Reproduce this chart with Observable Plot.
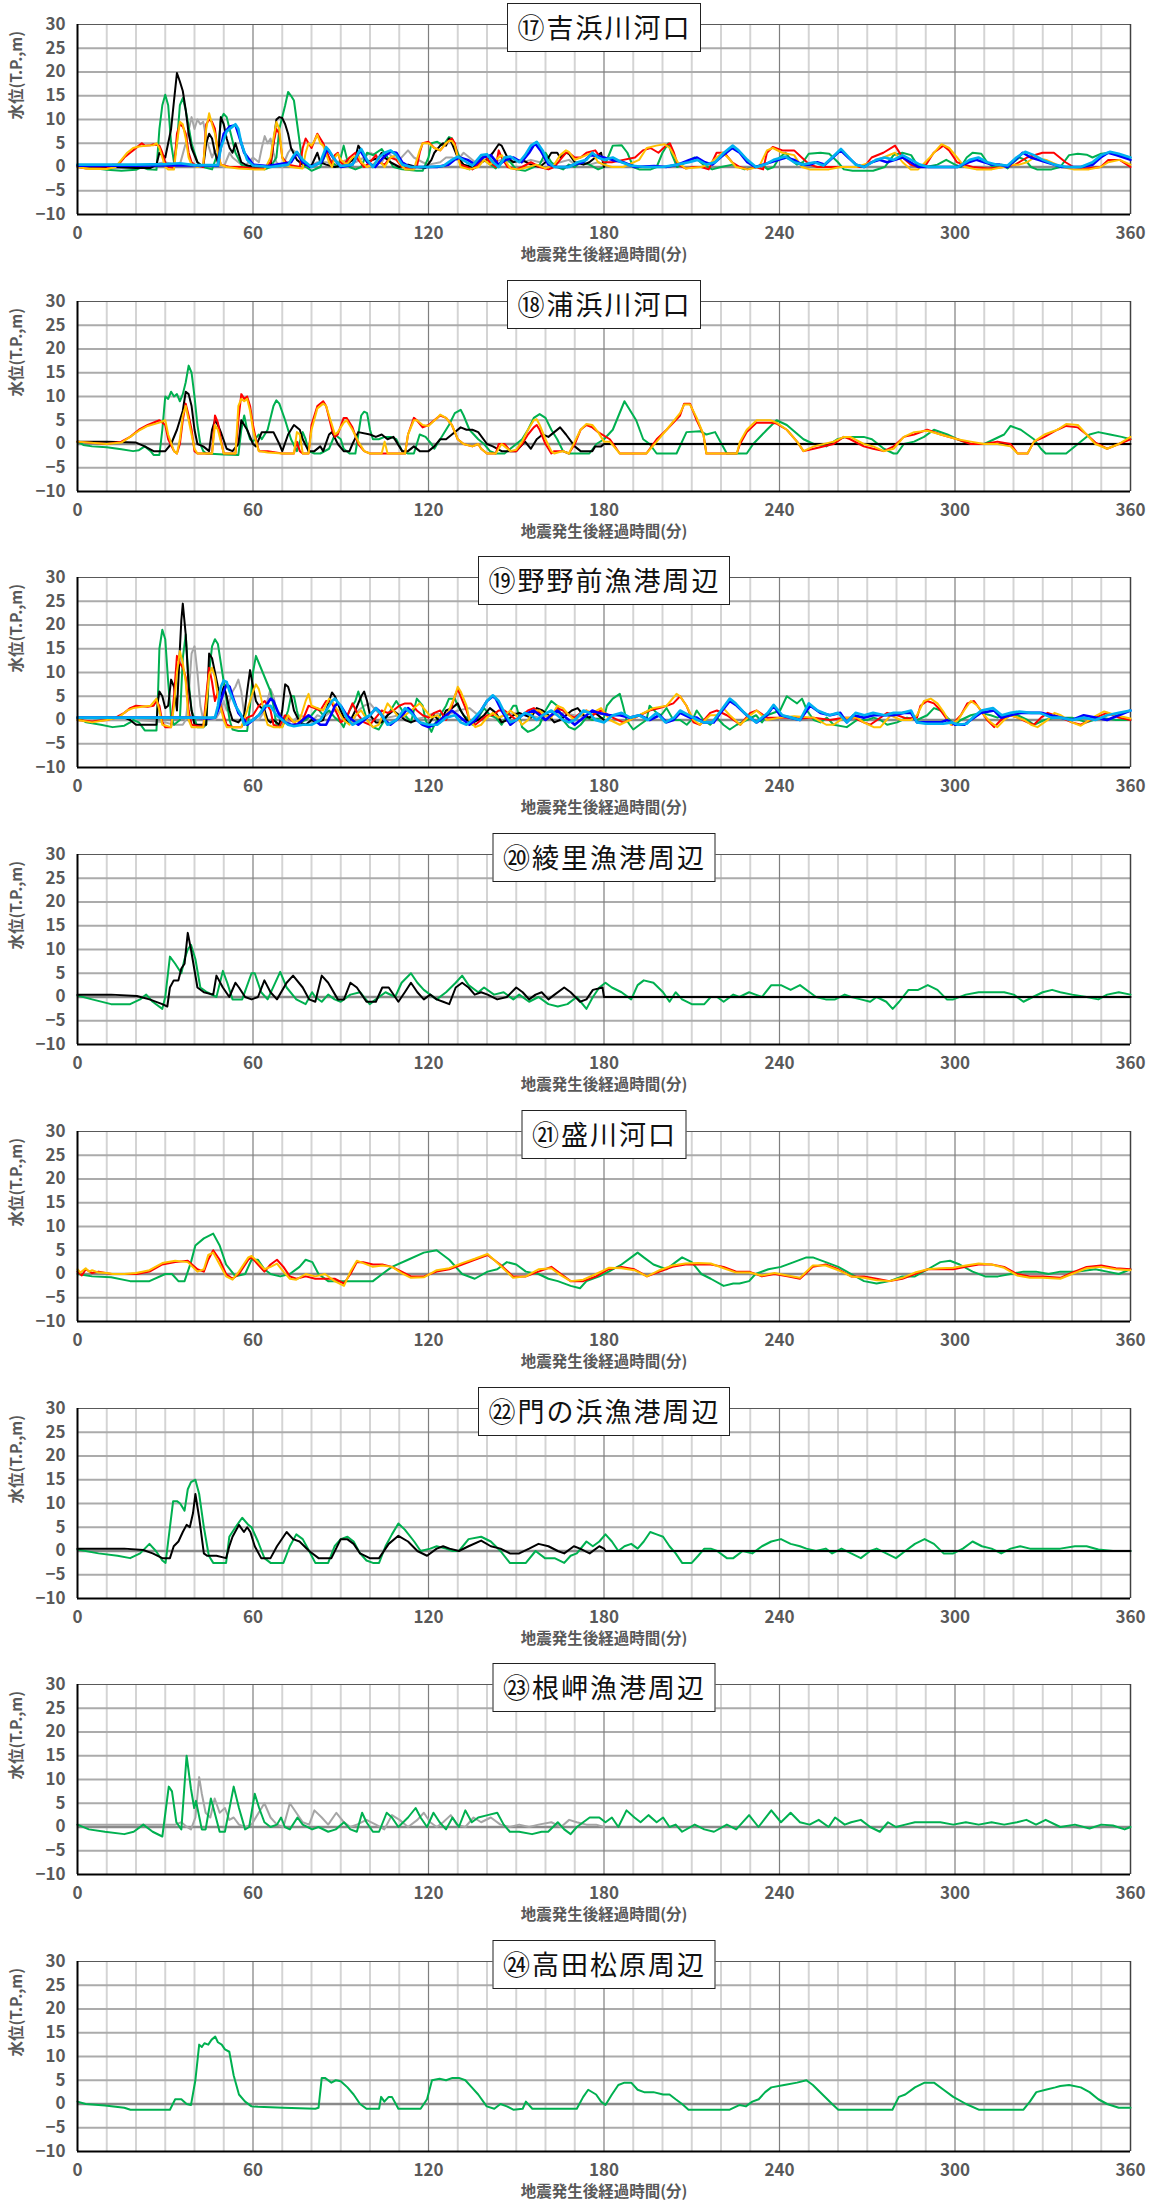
<!DOCTYPE html>
<html><head><meta charset="utf-8">
<script src="https://cdn.jsdelivr.net/npm/d3@7"></script>
<script src="https://cdn.jsdelivr.net/npm/@observablehq/plot@0.6"></script>
<style>
body{margin:0;background:#fff;}
#wrap{position:relative;width:1167px;height:2208px;overflow:hidden;}
.panel{position:absolute;left:0;width:1167px;}
.tbox{position:absolute;transform:translateX(-50%);box-sizing:border-box;height:49px;border:1.5px solid #222;background:#fff;
font-family:"Noto Sans CJK JP",sans-serif;font-size:27px;line-height:45px;letter-spacing:2px;padding:0 8px 0 10px;color:#111;white-space:nowrap;z-index:2;}
</style></head>
<body><div id="wrap"></div>
<script>
// ---- axis / tick data ----
const yTicks = [-10,-5,0,5,10,15,20,25,30];
const xTicks = [0,60,120,180,240,300,360];
const xMinor = [10,20,30,40,50,70,80,90,100,110,130,140,150,160,170,190,200,210,220,230,250,260,270,280,290,310,320,330,340,350];
const yGrid = [-5,5,10,15,20,25];
const xTitle = "地震発生後経過時間(分)";
const yTitle = "水位(T.P.,m)";
const titles = ["⑰吉浜川河口","⑱浦浜川河口","⑲野野前漁港周辺","⑳綾里漁港周辺","㉑盛川河口","㉒門の浜漁港周辺","㉓根岬漁港周辺","㉔高田松原周辺"];

// ---- series: flat [time(min), level(m), ...] ----
const p17_green = [0,0.5,5,-0.2,10,-0.6,15,-0.8,20,-0.6,22,0,24,-0.5,27,-0.6,28,8,29,13,30,15.2,31,13,32,5,33,1,34,5,35,13,36,14.5,37,12,39,5,41,1,43,0,46,-0.5,48,3,49,10,50,11.2,51,10.5,52,8,54,3,56,0.5,58,0,60,0,64,-0.5,66,0,68,2,69,8,71,13,72,15.8,73,15,74,14,76,5,77,0.5,80,-0.8,83,0,85,3,87,1,89,0,90,2,91,4.5,92,2,93,0,95,-0.5,97,0,99,3,101,2.5,104,3.8,106,2,108,0,111,-0.5,116,-0.8,118,-0.8,120,2,121,5,123,5.3,125,4.5,127,6.3,128,6,130,3,132,0,134,-0.5,136,-0.2,138,2,140,1,143,-0.3,146,2,148,1,150,-0.5,153,-0.8,156,0,158,0.5,160,3,162,1,164,0,166,-0.5,168,0.5,170,0,172,1,175,0.5,178,-0.5,180,0,182,3,183,4.5,186,4.6,188,3,190,0,192,-0.5,196,-0.5,198,0,200,3,202,5,203,3,205,0,208,1,211,2,214,0.5,217,-0.5,220,0,224,0.5,228,-0.5,232,0,234,0.5,236,-0.5,238,0,240,2,242,3,244,1.5,246,0.5,248,1,250,2.8,254,3,257,2.8,260,1,262,-0.5,265,-0.8,272,-0.8,276,0,279,2.5,282,3,285,2.5,287,0.5,290,0,294,0.5,297,1.5,300,0.5,302,0,304,2,306,3,309,2.8,311,1,313,0,316,0.5,318,-0.3,320,1,322,2,324,1.5,326,0,328,-0.5,333,-0.5,336,0,339,2.5,342,2.8,345,2.6,347,2,350,2.8,353,3,356,2.5,360,2];
const p17_black = [0,0.3,10,0,20,-0.2,25,-0.2,27,0.5,28,3,29,2.5,30,2,31,5,32,8,33,14,34,19.8,35,18,36,16,37,12,38,7,39,4,41,1,43,0,44,5,45,7,46,6,47,3,48,1,49,10.5,50,9,51,6,52,4,53,3,54,5,55,3,56,1,58,0.3,62,0,66,0,67,5,68,10,69,10.5,70,10.3,71,9,72,7,73,4,75,1.5,77,0.5,80,0.3,82,3,83,1,85,0.5,88,0,92,0.5,95,2,96,4.5,97,3.5,99,1,101,1.5,103,2,104,3,105,2,107,1,110,0,113,0.5,116,0,119,-0.2,121,1.5,122,3,124,4.5,125,5,126,4.5,127,6,128,5,130,2,132,0.5,135,0,138,1,140,1.5,142,3,144,4.8,145,4.5,147,2,149,1,152,1.5,155,0.5,158,0,160,1,162,3,164,3,165,2,167,3,168,2.8,170,1,173,0.5,175,1,177,2,179,3,180,0];
const p17_red = [0,0,3,-0.3,10,-0.3,12,0.5,14,0.5,16,2,18,3,19,3.5,21,4.5,22,5,23,4.5,25,4.6,26,4.8,28,4.5,29,3,30,1,31,0,33,-0.2,34,7,35,9,36,8.5,37,7,38,3,39,1,40,0.5,43,0,44,9,45,10,46,9.5,47,8,48,3,49,0.5,52,0,56,0,60,-0.3,64,-0.3,66,1,67,5,68,8,69,7,70,2,72,0.5,76,0,77,4,78,6,79,5,80,4,81,5.5,82,7,83,6,84,5,86,2,87,0.5,88,2.5,89,3,90,1,91,0.5,93,2,95,3,96,1.5,98,0,100,1,102,2.5,103,1,105,0.5,107,2,109,1.5,111,0,114,-0.3,116,0,117,3,118,5,120,5.3,122,4,124,3.5,126,5,127,5.5,128,6,129,5,130,2,131,0.5,133,0,135,-0.5,137,0.5,139,2.5,141,1,143,0,144,3.5,145,2,147,0,150,-0.5,152,0,155,1,158,0,161,-0.5,163,0,165,1.5,167,3,168,3,170,2,172,2,174,3,177,3.5,180,1,182.7,1,186.6,1.5,190.6,2,193.3,3.5,195.9,4,198.6,3,201.2,4.5,202.5,5,203.9,3,205.2,0.5,207.9,-0.3,210.5,0,213.2,0,215.8,-0.5,218.5,3,221.1,3,223.8,1,226.4,0,229.1,-0.5,231.7,0,234.4,-0.5,235.7,3,237.7,4.2,241,3.5,245,3.5,247.6,2,250.3,0.5,252.9,0,258.2,0,263.5,0,268.9,0,271.5,2,275.5,3,279.5,4.5,282.1,2,284.8,0.5,287.4,0,290.1,0.5,292.7,3,296,4.5,298,3.5,300.7,1,303.3,0.5,306,0,311.3,-0.3,316.6,0,320.6,0.5,324.6,2,329.9,3,333.8,3,337.8,1,340.5,0,344.5,-0.3,349.8,0,352.4,1.5,356.3,1.5,360,0];
const p17_orange = [0,0,4,-0.4,10,-0.4,13,0,15,1.5,17,3,19,4,21,4.3,24,4.5,26,4.6,27,5,28,4,29,2,30,0,31,-0.5,33,-0.5,34,5,35,9.5,36,9,37,6,38,2,39,0.5,41,0,43,0.5,44,8,45,11.3,46,9,47,7,48,3,49,0.5,51,0,55,-0.3,60,-0.5,64,-0.5,66,2,67,6,68,9.5,69,8,70,2,71,0.5,73,0,77,-0.3,78,3,79,5,80,4.5,81,5.5,82,6.8,83,5,84,4.5,86,1,87,0,88,2,89,2.8,90,1.5,92,0.5,94,2,96,2.5,97,1,99,0,101,0.5,103,1.5,105,0,107,2,109,2.5,110,1,112,-0.5,115,-0.5,117,3.5,118,5,120,5,122,4,124,3.5,126,5,127,5.5,128,5.5,129,4.5,130,2,131,0,134,-0.5,137,0,139,1.5,141,0.5,143,1.5,145,2.5,146,1.5,148,-0.3,151,-0.5,154,0,157,0.5,160,-0.3,163,0.5,165,2.5,167,3.5,168,3.2,170,1.5,172,2,174,2.5,176,3,178,1,180,0.5,182.7,0,186.6,0,192,1.5,194.6,4,197.9,4.5,200.6,4.8,202.5,4,205.2,1,207.9,-0.3,213.2,0,215.8,0.5,218.5,2,220.5,3,222.4,2,225.1,0,229,-0.5,233,0,235.7,3.5,237.7,4,241,3,245,2.5,247.6,0,250.3,-0.5,256.9,-0.5,260.9,0,266.2,0,271.5,1,275.5,2,279.5,3,282.1,1,284.8,-0.5,287.4,-0.5,291.4,2,295.4,4.8,298,4,300.7,2,303.3,0,307.3,-0.5,312.6,-0.5,316.6,0,319.3,0.5,321.9,0.5,324.6,1,327.2,2,331.2,1.5,336.5,0,340.5,-0.5,345.8,-0.5,349.8,0,352.4,1,356.3,1.5,360,0.5];
const p17_gray = [0,0,20,0,25,0.5,30,1,33,0.5,35,0.5,37,5,39,10.5,40,8,41,10,42,9,43,9.5,44,6,45,4,46,2,47,3.5,48,0.5,50,0,52,3,53,2,55,1,57,0,60,2,62,1,63,4,64,6.5,65,5,66,6,67,3,68,1,70,0,72,3,73,3.8,75,3,77,1.5,79,0,82,1,85,1,88,0.5,92,1.5,95,1,98,2,100,3,102,2.5,104,1,106,3,108,2,110,1.5,113,3.5,115,2,118,1,120,0.5,124,1,126,2,128,2,130,1.5,132,3,134,2,136,1,138,1.5,140,1.5,142,1,145,1.5,148,1,150,1.5,152,1,155,1.5,158,1,160,1.5,162,0.5,165,1,168,1.5,170,0.5,172,1,175,0.5,178,1,180,0.5];
const p17_blue = [0,0.3,20,0.3,30,0.4,40,0.3,48,0.3,48.6,3,50,7,52,8.5,54,8.8,55,7,57,3,60,0.5,65,0.2,73,1,75,3,77,1,79.5,0,83.4,1,85.4,3.8,87.4,2,90,0,94,0.5,96.6,3.5,99.2,1,101.8,0,104.5,2,107,3.2,109,3,111,1,113.7,0,117.6,0,122.9,0,126.8,0.5,128.8,1.5,130.7,2,133.4,1.5,136,0.5,138.6,2,141.3,2.5,143.9,0.5,146.5,1.5,149.1,2,151.8,1,154.4,3,156.4,5,158.3,3.5,161,0.5,163.6,0,167.5,0,170,0.5,172.8,1,175.4,2.5,178,2.3,180,2,182.7,1.5,186.6,1,190.6,0,197.2,0.2,201.2,0,205.2,0.5,209.2,1.5,211.8,2,214.5,1,217.1,0.5,219.8,2,223.8,4,226.4,3,229,1,231.7,0,234.4,0.5,237,1,239.7,1.5,242.3,2,245,1.5,247.6,0.5,250.3,0.5,252.9,1,255.6,0.5,258.2,2,260.9,3.5,263.5,2,266.2,0.5,268.9,0,271.5,1,274.2,1.5,276.8,1,279.5,1.5,282.1,2,284.8,1,287.4,0,290.1,0,295.4,0,300.7,0,304.7,1,307.3,1.5,310,1,312.6,0.5,315.3,0.5,317.9,0,320.6,1.5,323.2,3,325.9,2,328.5,1.5,331.2,1,333.8,0.5,336.5,0,339.2,0,343.1,0,347.1,0.5,349.8,2,352.4,3,355.1,2.5,357.7,2,360,1.5];
const p17_lightblue = [0,0.5,20,0.5,30,0.6,35,0.8,40,0.4,48,0.4,49,4,51,7.5,53,8.5,54,9,55,8,56,5,58,1.5,60,0.3,66,0,72,0.5,74,2.5,75,3.2,77,1.5,80,0,83,1,85,4.2,86,3.5,88,1.5,90,0.2,94,0.5,96,3,97,3.8,99,1.5,101,0,103,2,105,3,107,3.5,109,2.5,111,0.5,114,0,120,0,125,0.2,128,1.5,130,2.2,133,1,135,0.3,138,2.5,140,2.7,142,1,144,0,146,2,148,2.2,151,1,153,2.5,155,4.5,157,5.3,159,3.5,161,1,163,0,168,0,171,1,174,1.5,176,3,178,2,180,1.5,183,2,186,1,189,0.3,194,0,200,0,205,0.5,209,1,212,1.5,215,0.5,218,1,221,3,224,4.5,226,3.5,229,1.5,232,0,235,0.5,238,1.5,242,2.2,245,1,248,0.5,252,1,255,0.3,258,2,261,3.8,263,2.5,266,0.5,269,0,273,1.5,276,2,279,1.5,282,2.5,285,1.5,288,0.5,291,0,296,0,301,0,305,1.5,308,2,311,1,314,0.5,318,0.3,321,2,324,3.2,327,2.5,330,1.5,334,0.5,338,0,343,0,347,1,350,2.5,353,3.2,356,2.8,360,2];

const p18_green = [0,0.5,2,-0.2,5,-0.5,10,-0.7,15,-1.1,19,-1.5,21,-1.3,23,-0.5,25,-1.5,26,-2.3,28,-2.3,29,3,30,10,31,9.5,32,11,33,10,34,10.5,35,9,36,10.5,37,13,38,16.5,39,15,40,10,41,4,42,0,43,-1.5,44,-2,50,-2.2,55,-2.3,56,3,57,6,58,3,59,1,60,0.5,62,2,63,1,65,3,67,8,68,9.2,69,8.5,71,5,73,1,75,-1.5,77,2.5,78,1,79,-1.5,81,-2,83,-2,86,-1,88,2,90,1,91,-1,93,-2,95,-2,96,2,97,6,98,6.8,99,6.5,100,3,101,1,103,1,105,1.5,107,1.5,109,1,111,-1.5,113,-2,115,-2,117,2,119,1.5,121,0,122,-1,123,0,125,2,127,4,129,6.5,131,7.2,132,6,134,3,137,1,139,0,141,-1.5,143,-2,146,-2,148,-1,150,0,152,1,154,3,156,5.5,158,6.3,160,5.5,162,3,164,1,166,-1.5,168,-2,172,-2,175,-2,177.4,0,180,1,183,3,187,9,191,5,193.4,1,195.6,0,198,-2,204.8,-2,208.2,2.5,212.8,2.7,215,2,218,2.5,220.2,0,222,-2,228.8,-2,231,0,235.7,3,239,5,242.5,4,248.2,1,251.7,0,256,-0.5,259.7,1,263,1.5,268.8,1.5,271.6,1,275.7,-1,279,-2,280.2,-2,282.5,0,286,0.5,289.4,1.5,292.8,3,297.4,2,300.8,1,305.4,0,310,0,313.4,1,316.8,2,319,3.8,322.5,3,327,1,329.4,-1,331,-2,336.2,-2,338,-2,342,0,346,2,349,2.5,353,2,357,1.5,360,1];
const p18_black = [0,0.5,10,0.5,20,0.3,23,-0.5,26,-1.5,30,-1.5,32,0,34,3,36,7,37,11,38,10.5,39,8,40,3,41,0,43,-0.5,45,-1.5,46,3,47,5,48,4,49,2.5,51,-1,53,-1.5,55,0,56,5,57,4,58,3,60,0,61,-0.5,63,2.5,65,2.5,67,2.5,69,0,70,-1.5,72,2,74,4,76,3,77,1,79,-1.5,81,-1.5,83,-0.5,84,-1.5,86,2,87,2.5,89,0,91,-1.5,93,-1.5,94,0,96,2.5,100,2,102,1.5,104,2,106,1,108,1.5,109,0.5,111,-1.5,113,-1.5,115,-0.5,117,-1.5,120,-1.5,122,-0.5,124,1,126,1,128,2,131,3.5,133,3,135,3,137,2.5,140,0,142,-0.5,145,-1.5,150,-1.5,153,0.5,155,-1,157,1,159,2,161,1.5,163,2.5,165,3.5,167,2,170,-0.5,172,-1.5,176,-1.5,177,-0.5,179,-0.5,180,0,360,0];
const p18_red = [0,0.5,10,0,15,0.5,18,1.5,21,3,24,4,28,5,30,4,31,1,33,-1.5,34,-2,35,0,36,5,37,8.5,38,6,39,3,40,-1.5,41,-2,46,-2,47,6,48,4.5,49,1,50,-2,54,-2,55,5,56,10.5,57,9.5,58,10,59,8,60,4,61,1,62,-1.5,65,-1.5,70,-2,74,-2,75,0.5,76,-1.5,77,-2,79,-2,80,4,82,8,84,9,85,8,87,3,88,1.5,89,2,91,5.5,92,5.5,94,3.5,96,0,98,-1.5,100,-2,108,-2,112,-2,113,2,115,5.5,116,5,118,3.5,120,4,123,5.5,124,6,126,5.5,128,4,130,1,132,0,135,-0.5,137,0,138,-1,140,-2,143,-2,144,0,146,0,148,-1.5,150,-1.5,152,0,154,2,156,3.5,157,4,158,3,160,0,162,-2,163,-1.5,166,-1.5,168,-2,170,0,172,3,174,4,176,3.5,178,2.5,182,1,185.4,-2,194.5,-2,198,1,201.4,3,206,6,207.4,8.5,209.4,8.5,211.7,5,214,2,215,-2,225.4,-2,226.5,0,228.8,2.5,232.2,4.5,236.8,4.5,239,4.3,242.5,3,246,0.5,248.2,-1.5,251.7,-1,258.5,0,262,1.5,264.2,1,268.8,-0.5,272,-1,275.7,-1.5,279,-0.5,282.5,1.5,286,2,290.5,3,295.1,2,300.8,1,305.4,0,310,0,314.5,0.5,319,0,321.4,-2,324.8,-2,327,0.5,330.6,1.5,335,3,338,3.8,342,3.5,345,2,348,0.3,352,-1,356,0,360,1];
const p18_orange = [0,0.5,10,0,15,0.3,18,1.5,21,2.8,24,3.8,28,4.5,30,5,31,2,33,-1.5,34,-2,35,1,36,6,37,8,38,5,39,2,40,-1,41,-2,46,-2,47,4,48,3,49,0.5,50,-2,54,-2,55,8,56,9.5,57,9,58,9.5,59,7,60,3,61,0.5,62,-1.5,65,-1.8,70,-2,74,-2,75,2.5,76,2,77,-2,79,-2,80,3,82,7.5,84,8.5,85,8,87,4,88,2,89,2.5,91,4.5,92,5,94,3,96,0.5,98,-1.5,100,-2,104,-2,105,0.5,106,-2,112,-2,113,2,115,5,116,5,118,4,120,3.8,123,5.5,124,6.2,126,5.5,128,4,130,1,132,0,135,-0.5,137,0,138,-1,140,-2,143,-2,145,0,146,-0.5,148,-1.5,150,-1.2,152,0.5,154,3,156,5,157,5.2,158,4,160,1,162,-1.5,163,-2,166,-1.5,168,-2,170,0.5,172,3,174,4.2,176,4,178,2.5,180,0.5,182,0.5,185.4,-2,194.5,-2,198,0.5,201.4,3,206,6.5,207.4,8.3,209.4,8.3,211.7,5.5,214,2,215,-2,225.4,-2,226.5,0.5,228.8,3,232.2,5,236.8,5,239,4.5,242.5,3,246,0.5,248.2,-1.5,251.7,-0.5,258.5,0.5,262,1.5,264.2,1.5,268.8,0,272,-0.5,275.7,-1.5,279,-1,282.5,1.5,286,2.5,290.5,2.8,295.1,2,300.8,1,305.4,0.5,310,0,314.5,0,319,-0.5,321.4,-2,324.8,-2,327,0.5,330.6,2,335,3,338,4.2,342,4,345,2,348,0,352,-1,356,0,360,1.5];

const p19_green = [0,0.5,3,-0.5,8,-1,12,-1.5,16,-1.2,18,-0.5,19,0,21,-0.5,23,-2.2,27,-2.2,27.5,5,28,15,29,19,30,17,31,8,32,0.5,33,-1,35,0,36,13,37,18,38,8,39,2,41,-1.5,43,-1.5,44,-1,45,10,46,15.5,47,17,48,16,49,12,50,8,51,4,52,0,53,-2,55,-2.3,58,-2.3,59,3,60,10,61,13.5,62,12,64,9,66,6,67,3,68,-1,70,-1.5,72,2,73,5,74,5,75,2,76,-0.5,78,0,80,1,82,2.5,84,1,86,2,88,0.5,90,-0.5,91,-1.5,93,2,95,4,96,6,97,4,99,0,101,-1.5,103,-2,105,0,107,2,109,4,110,3,112,1,114,-0.5,116,4.5,118,3,119,0,121,-2.5,122,-1,124,1,126,3,127,4.5,129,4.5,130,3,132,1,134,0,135,-1,137,0.5,139,2.5,141,1,143,0.5,145,-1,147,1,149,3,150,3,152,-1.5,154,-2.5,156,-2,158,-1,160,2,162,4,164,3,166,0,168,-1.5,170,-2,172,-1,174,0.5,176,0,180,0.5,181,3,183,4.5,185.4,5.5,186.5,3,187.7,0,188.8,-1,190,-2,192.2,-1,194.5,0,195.6,3,198,1.5,199.5,1,201.4,2.5,203.7,0,206,0,208.3,-1,210.6,0.5,211.7,2,214,0,216.3,-1,218.6,0.5,220.8,-1,223,-2,225.4,-1,228.8,0,232,1,234,-0.5,235.7,1,240.2,2,242.5,5,244.8,4,246,3.5,247.7,4.5,249.4,2,251.7,0,254,-0.5,256.2,0.5,258.5,-1,263,-1.5,266.5,0,270,0,272.2,0.5,274.5,0,276.8,-1,280.2,-0.5,283.6,0.5,287,0,290.5,1,292.8,2.5,295.1,2,297.4,0.5,300,-1,302,0,305.4,1,308.8,1.5,312.2,1,314.5,0.5,316.8,1,319,1,321.4,1,324.8,0,327,-1,330.6,0,334,0.5,336.2,0.5,340,0.5,345,-0.5,350,0.5,355,0,360,0];
const p19_black = [0,0.5,10,0.3,16,0.5,18,0,20,-1,25,-1,27,-1,27.5,4,28,6,29,5,30,2.5,31,3,32,8.5,33,7,34,2,35,15,35.5,21,36,24.5,37,18,38,7,39,2,40,-1,42,-1,44,-1,45,14,46,13,47,10,48,7,49,5,50,7,51,5,52,2,53,0,55,-0.5,57,1,58,6,59,10.5,60,7,61,4,62,3,64,2,65,0,66,-0.5,67,0,69,-1,70,2,71,7.5,72,7,73,5,74,2,76,-0.5,78,-1,80,0,82,-0.5,84,0,86,4,87,5.8,88,5,90,2,91,0.5,93,-0.5,95,2,97,5,98,6,99,4,100,1,102,-0.5,104,-0.5,106,1,108,2,110,1,112,0,114,-0.5,116,0,118,-1,120,-1,122,1,124,-0.5,126,2,128,2.5,130,3.5,131,2,133,0,135,-0.5,137,0,139,1,141,2.5,143,1.5,145,-0.5,147,0,149,1,151,1.5,153,1,155,0.5,157,2.5,159,2,161,1,163,-0.5,165,0,167,1,169,2,171,2.5,173,1,175,0.5,177,1.5,179,0.5,180,0];
const p19_red = [0,0,5,-0.3,10,0,13,0.5,16,1.5,18,2.5,20,3,24,2.8,26,3,27,4,28,3,29,-0.5,30,-1.5,32,-1.5,33,5,34,13.5,35,12,36,11,37,9,38,2,39,-1,43,-1.5,44,5,45,11,46,8,47,4,48,6,49,3,50,1,51,-1,53,-1.5,56,-1.5,58,0.5,60,1,62,3,64,4,66,2,67,-1,69,-1.5,71,1,73,0,75,-1,77,0,79,3,81,2.5,83,2,85,4,87,3.5,89,1,90,-0.5,92,0.5,94,3.5,96,1,98,-0.5,100,-1,102,0.5,104,2,106,1.5,108,2,110,3,112,3.5,114,3.5,116,2,118,1,120,0.5,122,1.5,124,2,126,0,128,3,129,5,130,6.5,131,5,133,2,134,0,136,-1,138,0,140,1,142,1,144,2,146,2,148,1,150,0,152,1,154,2,156,2.5,158,1.5,160,0,162,1,164,2.5,166,2,168,1,170,0.5,172,1.5,174,2,176,1,179,2,183,0.5,186.5,-0.5,188.8,0,192.2,1,195.6,2,199,2.5,201.4,3,203.7,3.5,206,5,208.2,3,210.6,-0.5,212.8,-1,216.3,1.5,218.6,2,222,1,224.3,0,226.6,-1,230,1.5,232.2,2,235.7,0.5,240.2,0.5,244.8,0.5,247,0.3,251.7,0.5,257.3,0,262,0.5,265.3,0.5,268.8,-0.5,271,-1,273.4,0,276.8,1.5,280.2,1,283.6,0.3,287,0.5,288.2,3,290.5,4,292.8,3.5,295.1,2,297.4,0,299,-1,302,1,304.2,3.5,306.5,4,308.8,2,311,0,313.4,-1.5,315.7,0,319,1,321.4,0.5,324.8,-0.5,327,-1,329.4,0.5,331.7,1.5,334,1,336.2,0.5,340,-0.5,343,-1,348,0.5,352,1.5,356,0.5,360,0];
const p19_orange = [0,0,5,-0.5,10,0,14,0.5,17,2,19,2.5,22,2.8,25,3,27,4.5,28,2,29,-1,32,-1.5,33,3,34,10,35,14.5,36,12,37,8,38,0,39,-1.5,43,-1.5,44,3,45,9.5,46,11,47,9,48,5,50,0,51,-1.5,56,-1.5,58,2,60,6,61,7.5,62,6.5,63,4,64,1,65,-1,67,-1.5,70,-1.5,72,1,74,-0.5,76,0,78,4,79,5.5,80,3,82,2.5,84,2,86,4.5,87,4,89,2,91,0,93,-1,95,1,97,2,99,0,101,-1.5,103,-1,105,2,106,3.5,108,2,110,0.5,112,1,114,2,116,3,117,3.5,119,2,121,0.5,123,1,125,0,127,2,129,5,130,7,131,6,133,3,134,0,136,-1.5,138,-1,140,0.5,142,1.5,144,0.5,146,1,148,2,150,1,152,-1,154,0,156,2,158,2,160,1,162,0.5,164,3,166,2.5,168,1,170,0,172,1,174,2,176,1.5,179,2.5,182,0,185.4,-1,188.8,0,192,1,196.8,2.5,201.4,3,204.8,5.5,206,5,208.2,3,210.6,0,212.8,-1,216.3,1,218.6,1,220.8,2.5,223,1,226.6,-1,230,1,232.2,2,235.7,0,240,0.5,245,0.8,251.7,0.5,256,-1,258.5,-1,262,0.5,266.5,0.5,268.8,-0.5,272.2,-1.5,274.5,-1.5,278,1,281.4,0,285,0,287,1,289.4,4,291.7,4.5,294,3.5,296.3,1.5,298.6,-1,301,0,303.1,2,305.4,4,307.7,3,310,1,312.2,-0.5,314.5,-1.5,316.8,0,319,1,323.7,0,326,-1,328.2,-1.5,331.7,0,334,1.5,336.2,1,340,-0.5,343,-1.2,347,0.5,351,1.8,355,1,360,0.3];
const p19_gray = [0,0,20,0,25,-0.2,30,-0.5,33,-1,36,-1,37,0,38,5,39,14,40,15.5,41,10,42,3,43,0,47,0,49,2,50,4,51,2,53,6,54,7,55,8.5,56,6,57,1,58,0,62,0,64,2,66,6.5,67,5,68,2,70,1,72,-0.5,74,0,76,1,78,0.5,80,-0.5,82,1,84,0.5,86,1.5,88,2,90,2,92,0.5,94,-0.5,96,2,98,3,100,3.5,102,2,104,1,106,0.5,110,1,114,0,118,0.5,122,1.5,126,1,130,2,134,2.5,138,0.5,142,0,146,1,150,1.5,154,1,158,0.5,162,1,166,1.5,170,1,174,0.5,178,0.3,180,0];
const p19_blue = [0,0.5,20,0.5,30,0.5,40,0.5,45,0.3,47,0.5,48,2,50,6,51,7.5,52,7,53,5,55,1.5,57,0,58,-1,60,0,62,1,64,2.5,66,4.5,67,4,69,1,71,-0.5,73,-1,75,-1,77,0,79,1,81,0,83,-1,85,-1,87,1.5,88,3,89,3.5,90,3,92,1,94,0,96,-1,98,0,100,1,102,2.5,103,2,105,0,107,-1,109,0,111,1,113,2.5,114,2,116,0,118,-1,120,-1.5,122,-1,124,0,126,1,128,2,130,1,132,0,134,-1,136,0,138,2,140,4,142,5,143,4.5,145,2,147,0,148,-1,150,0,152,1,154,1.5,156,2,158,1,160,0,162,1,164,2,166,1,168,0,170,-1,172,0,174,1,176,2,178,1.5,182,1,185.4,1,188.8,0.5,192.2,1,195.6,0,199,1,201.4,-0.5,203.7,0,206,1.5,209.4,0.5,211.7,0.5,214,-0.5,217.5,-0.5,219.8,1.5,223,4,225.4,3,228.8,1,232.2,-0.5,235.7,1,238,3,240.2,1,243.7,0.5,247,0,250.5,3,254,1.5,257.3,1,260.8,1.5,263,-0.5,265.3,1,268.8,0.5,272.2,1,275.7,1,279,1,282.5,1.5,284.9,1.5,287,-0.5,290.5,-0.5,295.1,-0.5,297.4,0,300,-1,303.2,-1,305.4,0,308.8,1.5,313.4,2,315.7,0.5,319,1,322.5,1.5,326,1.5,329.4,1.5,332.8,1,336.2,0.5,340,0,344,1,348,0.5,352,0,356,1,360,2];
const p19_lightblue = [0,0.5,20,0.5,30,0.5,40,0.5,47,0.5,48,3,49,7,50,8.3,51,8,52,6,54,3,56,1,57,-1,60,0,62,1,64,3,66,3,68,1,70,0,72,-1,74,-1.3,77,-1,80,-1,83,0,85,2,87,4,88,4.5,90,3,92,0.5,94,-1,97,0,100,1,102,2.5,104,1,106,-1,109,0,112,2.5,114,1.5,117,-0.5,120,-1,123,-1,126,0.5,129,1,131,-0.5,133,-1,135,0,138,2,140,4,142,5.2,144,4,146,1.5,148,-0.5,150,0,153,1.5,155,1,157,0,159,1,162,2,164,1,166,0,168,-0.5,170,0,173,2,175,1.5,177,0,180,-0.5,183,1,186,1.5,189,0.5,192,1,195,0,198,1.5,201,-0.5,204,0.5,206,2,209,1,212,0,214,-0.5,217,-0.5,220,2,223,4.5,225,3.5,228,1.5,232,-0.5,236,1.5,238,3.2,241,1,244,0.5,247,0,250,3.5,253,2,257,1,260,1.5,263,-0.5,266,1.5,269,1,272,1.5,276,1,279,1.5,282,1.5,285,2,287,-0.5,290,-0.8,296,-0.8,299,-0.5,301,-1,304,-0.8,306,0.5,309,2,313,2.5,316,1,319,1.5,322,1.8,326,1.5,329,1.5,333,0.5,336,0.5,340,0,344,0.5,348,0,352,1,356,1.5,360,2];

const p20_green = [0,0.3,5,-0.5,11.5,-1.5,18,-1.5,21.4,-0.5,23.5,0.5,25.7,-1,29,-2.5,30,0,31.6,8.5,33.4,7,35.5,5,36.6,8,37.7,10,38.8,11,40.3,8,42,2,44.3,1,47.5,0,49.7,5.5,51.2,3,53,-0.5,56.3,-0.5,59.5,5,60.6,5,62.8,1,65,-0.5,69.3,5.3,71.5,2,74.8,-0.5,78,-1.5,80.2,1,81.3,0,83.5,-1,85.7,0.5,87.9,-0.5,90,-1,93.3,0.5,96.6,1,99.9,-1.5,102,-0.5,105.3,1,108.6,0,110.8,3,114,5,116.2,3,118.4,1.5,122.8,-0.5,126,1,129.3,3,131.5,4.5,133.7,2.5,137,1,139,2,142.4,0.5,145.7,1,149,-0.5,151,0.5,154.4,-1,157.6,0,161,-1.5,164.2,-2,167.5,-1.5,170.7,0,174,-2.5,176.2,0,178.4,2,180.5,3,182.7,2,186,1,189.3,-0.5,191.5,2.5,193.6,3.5,196.9,3,200.2,1,202.4,-1,204.5,1,206.7,-0.5,210,-1.5,212.2,-1.5,214.3,-1.5,216.5,0,218.7,0,220.9,-1,224.2,0.5,226.3,0,229.6,1,231.8,0.5,234,0,237.2,2.5,240.5,2.5,243.8,1.5,247,2.5,250.3,1,252.5,0,255.8,-0.5,259,-0.5,262.3,0.5,264.5,0,267.8,-0.5,271,-1,273.2,0,276.5,-1,278.7,-2.5,280.9,-1,284.1,1.5,287.4,1.5,290.7,2.5,294,1.5,297.2,-0.5,299.4,-0.5,303.7,0.5,308.1,1,312.5,1,316.8,1,320.1,0.5,323.4,-1,326.6,0,330,1,333.2,1.5,336,1,340,0.5,345,0,349,-0.5,352,0.5,356,1,360,0.5];
const p20_black = [0,0.5,11.5,0.5,20.3,0.2,24.6,-0.5,29,-1.5,30.7,-2,31.6,2,32.9,3.5,34.5,3.5,35.5,6,36.6,7,37.7,13.5,38.8,10,39.9,6,41,2,43.2,1,46.4,0.5,47.5,4.5,49.7,2,51.9,0,54,3,55.2,2,57.3,0,59.5,-0.5,61.7,0,63.9,3.5,66,1,68.2,-0.5,71.5,3,73.7,4.5,77,2,79.2,-0.5,81.3,-1,83.5,4.5,85.7,3,89,-0.5,91.1,-0.5,93.3,3,95.5,2,98.8,-1,102,-1,104.2,2,106.4,2,109.7,-1,111.9,1,114,3,116.2,1,118.4,-0.5,120.6,0.5,122.8,-0.5,125,-1,127.1,-1.5,129.3,2,131.5,3,133.7,2,135.8,0.5,138,1,140.2,0.5,143.5,-0.5,146.8,0,150,2,152.2,1,154.4,-0.5,156.6,0.5,158.7,1,161,-0.5,163.1,0.5,166.4,2,168.6,1,171.8,-1,174,-0.5,176.2,1.5,179.5,2,180,0,360,0];

const p21_green = [0,0,5,-0.5,11.5,-0.7,18,-1.5,24.6,-1.5,30,0,32.3,0,34.5,-1.5,36.6,-1.5,38.8,2.5,40.3,6,43.2,7.5,46.4,8.5,48.6,6,50.8,2,54,-0.5,57.3,0,59.5,3,61.7,3,63.9,1,66,0,69.3,-0.5,72.6,0,75.9,1.5,78,3,80.3,2.5,82.4,0,85.7,-1.5,91.1,-1.5,94.4,-1.5,97.7,-1.5,101,-1.5,104.2,0,107.5,1.5,113,3,118.4,4.5,122.8,5,127.1,3,131.5,0,135.8,-1,140.2,0.5,143.5,1,146.8,2.5,150,2,153.3,0.5,157.6,0,161,-1,164.2,-1.5,168.6,-2.5,171.8,-3,174,-1.5,178.4,-0.5,181.6,0.5,186,2,189.3,3.5,191.5,4.5,193.6,3.5,196.9,2,201.3,1,204.5,2.5,206.7,3.5,210,2.5,213.3,0,216.5,-1,220.9,-2.5,224.2,-2,226.3,-2,229.6,-1.5,231.8,0,236.2,1,240.5,1.5,244.9,2.5,249.2,3.5,251.4,3.5,255.8,2.5,260.1,1.5,264.5,0,268.9,-1.5,273.2,-2,277.6,-1.5,282,-0.5,286.3,-0.5,290.7,1,295,2.5,298.3,2.8,301.6,2,306,0.5,310.3,-0.5,314.7,-0.5,319,0,323.4,0.5,327.7,0.5,332,0,336,0.5,342,0.5,348,1,352,0.5,356,0,360,1];
const p21_red = [0,0.5,1.5,-0.3,2.8,1,5,0.2,7.2,0.5,11.5,0,16,0,20.3,0,24.6,0.5,29,2,33.4,2.5,37.7,2.8,41,1,43.2,0.5,44.7,3,46.4,5,48.6,3,50.8,0,53,-1,55.2,0,58.4,3,59.5,3.5,61.7,2,63.9,0.5,66,2,68.2,3,70.4,1.5,72.6,-0.5,74.8,-1,78,-0.5,81.3,-1,84.6,-1,87.9,-1,91.1,-2,93.3,0,95.5,2.5,97.7,2.5,101,2,104.2,2,107.5,1.5,110.8,0.5,114,-0.5,118.4,-0.5,122.8,0.5,127.1,1,131.5,2,135.8,3,140.2,4,144.5,2,148.9,-0.5,153.3,-0.5,157.6,0.5,162,1.5,165.3,0,168.6,-1.5,172.9,-1.5,177.3,-0.5,181.6,1,186,1.5,190.4,1,194.7,-0.5,199,0.5,203.4,1.5,207.8,2,212.2,2,216.5,2,220.9,1.5,225.2,0.5,229.6,0.5,234,-0.5,238.3,0,242.7,-0.5,247,-1,251.4,1.5,255.8,2,260.1,1,264.5,-0.5,268.9,-0.5,273.2,-1,277.6,-1.5,282,-1,286.3,0,290.7,1,295,1,299.4,1,303.7,1.5,308.1,2,312.5,2,316.8,1.5,321.2,0,325.6,-0.5,330,-0.5,336,-0.8,340,0.3,345,1.5,350,1.8,355,1.2,360,1];
const p21_orange = [0,1,1,0.3,2.8,1.2,4,0.5,5,0.8,7.2,0.3,10,0.2,12,0,16,0,20,0.2,24.6,0.8,29,2.3,33.4,2.8,37.7,2.5,41,0.5,43.2,1,44.7,4,46.4,4.5,48.6,2,50.8,-0.5,53,-1.2,55.2,0.5,58.4,3.5,59.5,3.8,61.7,2.5,63.9,1,66,1.5,68.2,2.2,70.4,0.5,72.6,-1,74.8,-1.2,78,0,81.3,-0.5,84.6,0,87.9,-1.5,91.1,-2.5,93.3,0.5,95.5,2.8,97.7,2.3,101,1.5,104.2,1.8,107.5,1.5,110.8,0.2,114,-0.8,118.4,-0.7,122.8,0.8,127.1,1.2,131.5,2.3,135.8,3.2,140.2,4.2,144.5,1.8,148.9,-0.8,153.3,-0.5,157.6,1,162,1.2,165.3,-0.3,168.6,-1.5,172.9,-1.2,177.3,0,181.6,1.3,186,1.2,190.4,0.8,194.7,-0.5,199,0.8,203.4,1.8,207.8,2.2,212.2,2.3,216.5,2.2,220.9,1.2,225.2,0.3,229.6,0.3,234,-0.3,238.3,0.2,242.7,-0.3,247,-0.8,251.4,1.8,255.8,1.8,260.1,0.8,264.5,-0.5,268.9,-0.8,273.2,-1.3,277.6,-1.5,282,-0.8,286.3,0.3,290.7,1,295,1.2,299.4,1.3,303.7,1.8,308.1,2.2,312.5,2,316.8,1.3,321.2,-0.3,325.6,-0.8,330,-0.8,336,-1,340,0,345,1.2,350,1.5,355,1,360,0.8];

const p22_green = [0,0.3,7.2,-0.5,13.7,-1,18,-1.5,21.4,-0.5,24.6,1.5,26.8,0,29,-2,30.1,-2.5,31.6,5,32.7,10.5,34,10.5,35.1,10,36.6,8.5,37.7,13,38.8,14.5,40.3,15,41.6,12,43.2,5,44.9,-1,46.4,-2.5,50.8,-2.5,51.9,3,54,5,56.3,7,58.4,5.5,59.5,5,61.7,2,63.9,-1.5,66,-2.5,70.4,-2.5,72.6,1,74.8,3.5,77,2.5,79.2,0,81.3,-2.5,85.7,-2.5,87.9,1,90,2.5,92.3,3,94.4,2,96.6,-0.5,98.8,-2,101,-2.5,103.1,-2.5,105.3,1,107.5,3.5,109.7,5.8,111.9,4.5,115.1,2,117.3,0,120.6,0.5,122.8,1,126,0.5,128.2,0,130.4,0,133.7,2.5,138,3,141.3,2,144.6,0,147.8,-2.5,153.3,-2.5,156.6,0,159.8,-1.5,163.1,-1.5,166.4,-2.5,168.6,-1,170.7,-0.5,174,2,176.2,1,178.4,2,180.5,3.5,182.7,2,184.9,0,187,1,189.3,1.5,191.5,0.5,193.6,2,195.8,4,198,3.5,200.2,3,202.4,1,204.5,-0.5,206.7,-2.5,210,-2.5,212.2,-1,214.3,0.5,216.5,0.5,218.7,0,222,-1.5,224.2,-1.5,227.4,0,230.7,-0.5,234,1,237.2,2,240.5,2.5,243.8,1.5,247,1,249.2,0.5,252.5,0,255.8,0.5,258,-0.5,261.2,0.5,264.5,-0.5,267.8,-1.5,271,0,273.2,0.5,276.5,-0.5,279.8,-1.5,283,0,286.3,1.5,289.6,2.5,292.8,1.5,296.1,-0.5,299.4,-0.5,302.7,0.5,306,2,309.2,1,312.5,0.5,315.8,-0.5,319,0.5,322.3,1,325.6,0.5,330,0.5,336,0.5,341,1,345,1,349,0.3,354,0,360,0];
const p22_black = [0,0.5,16,0.5,22.5,0.2,25.7,-0.5,29,-1.5,31.6,-1.5,32.9,1,34.5,2,36,4,37.3,5.5,38.4,5,39.5,8,40.3,12,41.6,7,43.2,-0.5,44.3,-1,47.5,-1,50.8,-1.5,51.9,1,53,3,55.2,5.5,56.9,4,58,5,59.1,4,60.6,1,62.8,-1.5,66,-1.5,68.2,1,71.5,4,73.7,2.5,75.9,2,79.2,0,82.4,-1.5,86.8,-1.5,90,2.5,92.2,2.5,94.4,1.5,96.6,-0.5,99.9,-1.5,103.1,-1.5,106.4,1.5,109.7,3.2,113,2,116.2,0,119.5,-1,122.8,0.5,125,1,127.2,0.5,130.4,0,133.7,1,138,2.2,141.3,1,144.6,0.5,147.8,-0.5,151,-0.5,154.4,0.5,157.6,1.5,161,1,164.2,0,166.4,-0.5,169.7,1,171.8,0.5,175.1,-0.5,178.4,1,180,0.5,180.5,0,360,0];

const p23_green = [0,0.5,3.9,-0.5,9.4,-1,16,-1.5,19.2,-1,22.5,0.5,25.7,-1,29,-2,31.2,8.5,32.3,7.5,33.8,1,35.5,-0.5,37.3,15,38.8,8,39.9,4,40.5,5.5,42.5,-0.5,43.8,-0.5,45.6,6,46.9,3,48.6,-1,50.4,-1,53.4,8.5,55.2,4,57.3,-0.5,58.7,0,60.6,7,62.1,4,63.9,1,66,0,68.2,0.5,69.6,2,70.9,0,72.6,-0.5,75.2,2,77,0.5,80.2,-0.5,82.4,0,85.7,-1,88.3,-0.5,91.1,1,93.3,-0.5,95.5,-1,97.3,3,98.8,1,101,-1,103.1,-1,105.7,3,107.5,2,109.7,0,113,2,115.6,4,117.3,2,119.5,0,121.7,3,123.8,1,126,-0.5,128.2,2,130.4,0,132.6,3.5,134.8,1,137,2,140.2,2.5,143.5,3,145.7,0.5,147.8,-1,151,-1,155.4,-1.5,158.7,-1,160.9,-1,164.2,1,166.4,-0.5,168.6,-1.5,170.7,0,172.9,1,175.1,2,178.4,2,180.5,1,182.7,2,184.9,0,187.7,3.5,190.4,2,192.5,1,195.2,2.5,198,1,200.2,2,202.4,0,204.5,0.5,206.7,-1,211,0.5,214.3,-0.5,217.6,-1,222,0.5,225.2,-0.5,229.6,2.5,232.8,0,237.2,3.5,240.5,1,243.8,3,247,1,250.3,0.5,253.4,1.5,256.8,0,259,2,262.3,0.5,264.5,1,267.8,1.5,271,0,274.3,-1,277.1,1,279.8,0,283,0.5,286.3,1,290.7,1,295,1,299.4,0.5,303.7,1,308.1,0.5,312.5,1,316.8,0.5,321.2,1,324.4,1.5,327.7,0.5,331,1.5,336,0,341,0.5,346,-0.3,350,0.5,354,0.3,358,-0.5,360,0];
const p23_gray = [0,0.5,16,0.5,29,0.5,33.4,0.5,35.5,1,37,0.2,38.8,-0.5,40.3,2,41.6,10.5,42.5,7,43.8,3,45.4,2,46.9,6,48.6,3,50.4,4,51.9,1.5,53.4,2,55.2,0.5,57.3,0,59.5,0.5,63.9,5,66,2,68.2,0.5,70.4,0,72.6,5,74.8,3,77,1,79.2,0.5,81,3.5,83.5,2,85.7,0.5,88.5,3,91.1,1,93.3,0,95.5,0.5,98.8,1.5,102,0.5,104.9,-0.5,107.5,2.5,110.1,1.5,113,0,116.2,1.5,118.4,3,120.6,1,122.8,0,125,1,127.6,2.5,129.7,0.5,132.6,0,135.4,2,138,1,141.3,2,144.6,0.5,147.8,0,151,0.5,154.4,0,157.6,0.5,162,1,165.3,0,168.1,1.5,170.7,1,174,0.5,177.3,0.5,180,0];

const p24_green = [0,0.5,2.8,0,9.4,-0.3,16,-0.8,18.1,-1.2,29,-1.2,31.6,-1.2,33.4,1,35.5,1,37.3,0,38.8,-0.2,40.3,5,41.6,12.5,42.5,12,43.4,12.8,44.7,12.5,45.8,13.5,47.1,14.2,48,13,49.3,12.5,50.4,11.5,51.9,11,53.4,6,55.2,2,57.3,0.5,59.5,-0.5,61.7,-0.6,70.4,-0.8,81.3,-1,82.4,-0.8,83.5,5.5,84.6,5.5,86.8,4.5,88.3,5,90,4.8,92.3,3.5,94.4,2,96.6,0,98.8,-1,103.1,-1,103.8,1.5,104.9,0.5,106.4,1.5,107.5,1.5,109.7,-1,117.3,-1,119.5,1,121.2,5,123.8,5.3,126,5,128.2,5.5,130.4,5.5,132.6,5,134.8,3.5,137,2,139.9,-0.5,142.5,-1,144.6,0,146.8,-0.5,149,-1.2,152.2,-1,153.3,0.5,155.5,-1,170.7,-1,172.9,1.5,174.6,3,177.3,2,179,0.5,180.5,-0.2,182.7,2,184.9,4,187,4.5,189.3,4.5,191.5,3,193.7,2.5,196.9,2.5,200.2,2,202.4,2,204.5,1,206.7,0,208.9,-1.2,223,-1.2,226.4,-0.2,228.5,-0.5,230.7,0.5,232.9,1,235.1,2.5,237.2,3.5,241.6,4,246,4.5,249.2,5,251.4,4,254.7,2,258,0,260.1,-1.2,278.6,-1.2,280.8,1.5,283,2,286.3,3.5,289.6,4.5,292.8,4.5,296.1,3,299.4,1.5,303.8,0,308.1,-1.2,323.4,-1.2,325.6,0.5,327.8,2.5,331,3,334.3,3.5,336,3.8,339,4,343,3.5,346,2.5,349,1,352,0,356,-0.8,360,-0.8];

const colorOf = {green:"#00b050", black:"#000000", red:"#ff0000", orange:"#ffc000", gray:"#a6a6a6", blue:"#0000ff", lightblue:"#00b0f0"};
const widthOf = {green:2, black:2, red:2, orange:2, gray:2, blue:2.6, lightblue:2.6};

const panelSeries = [
  [[p17_gray,"gray"],[p17_green,"green"],[p17_black,"black"],[p17_red,"red"],[p17_orange,"orange"],[p17_blue,"blue"],[p17_lightblue,"lightblue"]],
  [[p18_green,"green"],[p18_black,"black"],[p18_red,"red"],[p18_orange,"orange"]],
  [[p19_gray,"gray"],[p19_green,"green"],[p19_black,"black"],[p19_red,"red"],[p19_orange,"orange"],[p19_blue,"blue"],[p19_lightblue,"lightblue"]],
  [[p20_green,"green"],[p20_black,"black"]],
  [[p21_green,"green"],[p21_red,"red"],[p21_orange,"orange"]],
  [[p22_green,"green"],[p22_black,"black"]],
  [[p23_gray,"gray"],[p23_green,"green"]],
  [[p24_green,"green"]]
];

function pts(a){const o=[];for(let i=0;i<a.length;i+=2)o.push({t:a[i],v:a[i+1]});return o;}

const wrap = document.getElementById("wrap");
const PITCH = 276.7, MT = 24, ML = 77, MR = 37, H = 277;
const font = '"Noto Sans CJK JP","Noto Sans",sans-serif';

titles.forEach((title, i) => {
  const top = Math.round(i * PITCH);
  const div = document.createElement("div");
  div.className = "panel";
  div.style.top = top + "px";
  const lines = panelSeries[i].map(([arr, c]) =>
    Plot.line(pts(arr), {x:"t", y:"v", stroke: colorOf[c], strokeWidth: widthOf[c], strokeLinejoin:"round"}));
  const svg = Plot.plot({
    width: 1167, height: H,
    marginLeft: ML, marginRight: MR, marginTop: MT, marginBottom: H - MT - 190,
    x: {domain: [0, 360]},
    y: {domain: [-10, 30]},
    style: {fontFamily: font, color: "#595959", background: "transparent", overflow: "visible"},
    marks: [
      Plot.ruleX(xMinor, {stroke: "#d4d4d4", strokeWidth: 2}),
      Plot.ruleY(yGrid, {stroke: "#ababab", strokeWidth: 2}),
      Plot.ruleX([60,120,180,240,300], {stroke: "#7f7f7f", strokeWidth: 1.2}),
      Plot.ruleY([0], {stroke: "#8a8a8a", strokeWidth: 2.4}),
      Plot.ruleY([30], {stroke: "#595959", strokeWidth: 1.2}),
      Plot.ruleX([360], {stroke: "#404040", strokeWidth: 1.5}),
      ...lines,
      Plot.ruleX([0], {stroke: "#000", strokeWidth: 2}),
      Plot.ruleY([-10], {stroke: "#000", strokeWidth: 2.2}),
      Plot.axisY(yTicks, {tickSize: 0, tickPadding: 12, fontSize: 17, fontWeight: "bold", label: null}),
      Plot.axisX(xTicks, {tickSize: 0, tickPadding: 12, fontSize: 17, fontWeight: "bold", label: null}),
      Plot.text([xTitle], {text: d => d, frameAnchor: "bottom", dy: 45, fontSize: 15.5, fontWeight: "bold", fill: "#595959"}),
      Plot.text([yTitle], {text: d => d, frameAnchor: "left", dx: -60, rotate: -90, fontSize: 15.5, fontWeight: "bold", fill: "#595959"})
    ]
  });
  div.appendChild(svg);
  const box = document.createElement("div");
  box.className = "tbox";
  box.textContent = title;
  box.style.left = (ML + (1167 - ML - MR) / 2) + "px";
  box.style.top = (MT - 21) + "px";
  div.appendChild(box);
  wrap.appendChild(div);
});
</script>
</body></html>
